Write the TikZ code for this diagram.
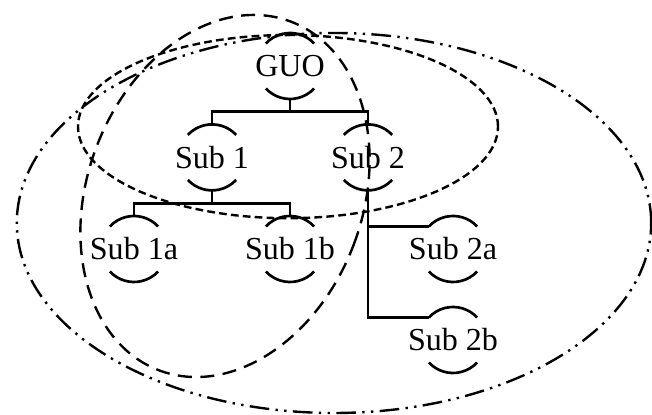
\documentclass[tikz,border=0pt]{standalone}
\usepackage{fontspec}
\setmainfont{Liberation Serif}
\begin{document}
\begin{tikzpicture}[line width=1.9pt,
  unit/.style={circle,minimum size=1.65cm,inner sep=0pt,outer sep=0pt,font=\fontsize{22.8}{26}\selectfont},
  ringsmall/.style={line width=1.7pt,dash pattern=on 5.5pt off 3pt},
  ringtall/.style={line width=1.7pt,dash pattern=on 10pt off 6pt},
  ringwide/.style={line width=1.7pt,dash pattern=on 14pt off 4.5pt on 1.7pt off 4.5pt on 1.7pt off 4.5pt}]
\useasboundingbox (0,0) rectangle (16.3,10.375);
\def\rr{0.825}
\node[unit,name=guo] at (7.25,8.725){\makebox[0pt]{GUO}};
\node[unit,name=sub1] at (5.3,6.44){\makebox[0pt]{Sub 1}};
\node[unit,name=sub2] at (9.2,6.44){\makebox[0pt]{Sub 2}};
\node[unit,name=sub1a] at (3.35,4.15){\makebox[0pt]{Sub 1a}};
\node[unit,name=sub1b] at (7.25,4.15){\makebox[0pt]{Sub 1b}};
\node[unit,name=sub2a] at (11.325,4.15){\makebox[0pt]{Sub 2a}};
\node[unit,name=sub2b] at (11.325,1.875){\makebox[0pt]{Sub 2b}};
% open rings round the names
\foreach \n in {guo,sub1,sub2,sub1a,sub1b,sub2a,sub2b}{
  \draw (\n.43) arc[start angle=43,end angle=137,radius=\rr];
  \draw (\n.223) arc[start angle=223,end angle=317,radius=\rr];
}
\draw (guo.south)--++(0,-0.32)-|(sub1.north);
\draw (guo.south)--++(0,-0.32)-|(sub2.north);
\draw (sub1.south)--++(0,-0.32)-|(sub1a.north);
\draw (sub1.south)--++(0,-0.32)-|(sub1b.north);
\draw (sub2.south)|-(sub2a.137);
\draw (sub2.south)|-(sub2b.137);
% groups
\draw[ringsmall] (7.2,7.21) ellipse[x radius=5.25,y radius=2.29];
\draw[ringtall,rotate around={-20.7:(5.625,5.475)}] (5.625,5.475) ellipse[x radius=3.44,y radius=4.66];
\draw[ringwide] (8.35,4.8) ellipse[x radius=7.93,y radius=4.75];
\end{tikzpicture}
\end{document}
